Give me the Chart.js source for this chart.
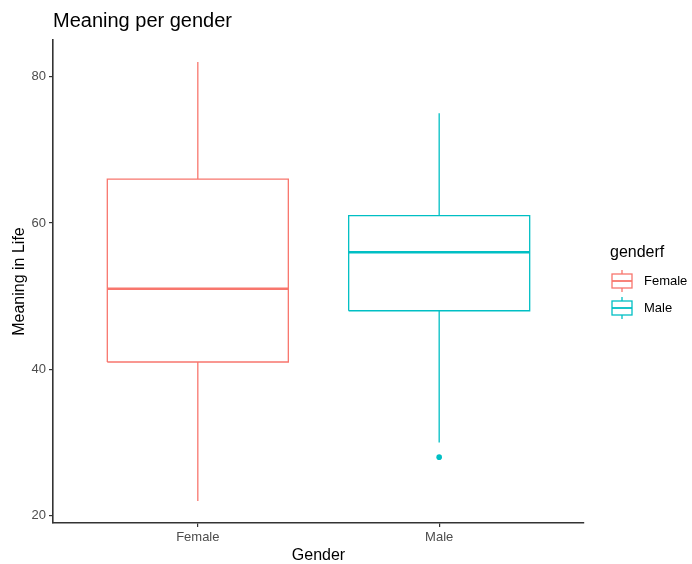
<!DOCTYPE html>
<html>
<head>
<meta charset="utf-8">
<title>Meaning per gender</title>
<script src="https://cdn.jsdelivr.net/npm/chart.js@4.4.1/dist/chart.umd.min.js"></script>
<style>
  html, body { margin: 0; padding: 0; background: #fff; }
  #wrap { width: 692px; height: 564px; }
</style>
</head>
<body>
<div id="wrap"><canvas id="chart"></canvas></div>
<script>
// boxplot summary per group (Meaning in Life)
const groups = ["Female", "Male"];
const whiskerLow = [22, 30];
const q1 = [41, 48];
const median = [51, 56];
const q3 = [66, 61];
const whiskerHigh = [82, 75];
const outliers = [[], [28]];
const colors = ["#F8766D", "#00BFC4"];
const yTicks = [20, 40, 60, 80];

const FONT = "'Liberation Sans', Arial, sans-serif";
const half = 0.375; // half box width in category units

const datasets = [];
groups.forEach((g, i) => {
  const x = i + 1;
  const line = { showLine: true, pointRadius: 0, borderColor: colors[i], fill: false, tension: 0 };
  datasets.push({ ...line, label: g + " box", borderWidth: 1.3, data: [
    { x: x - half, y: q1[i] }, { x: x + half, y: q1[i] },
    { x: x + half, y: q3[i] }, { x: x - half, y: q3[i] }, { x: x - half, y: q1[i] }
  ] });
  datasets.push({ ...line, label: g + " median", borderWidth: 2.4, data: [
    { x: x - half, y: median[i] }, { x: x + half, y: median[i] }
  ] });
  datasets.push({ ...line, label: g + " upper", borderWidth: 1.3, data: [
    { x: x, y: q3[i] }, { x: x, y: whiskerHigh[i] }
  ] });
  datasets.push({ ...line, label: g + " lower", borderWidth: 1.3, data: [
    { x: x, y: q1[i] }, { x: x, y: whiskerLow[i] }
  ] });
  datasets.push({ label: g + " outliers", showLine: false, pointRadius: 2.8, borderWidth: 0,
    pointBackgroundColor: colors[i], data: outliers[i].map(v => ({ x: x, y: v })) });
});

// title text at the panel's left edge
const titlePlugin = {
  id: "plotTitle",
  afterDraw(chart) {
    const ctx = chart.ctx;
    ctx.save();
    ctx.fillStyle = "#000";
    ctx.font = "20px " + FONT;
    ctx.textBaseline = "alphabetic";
    ctx.textAlign = "left";
    ctx.fillText("Meaning per gender", chart.chartArea.left, 27);
    ctx.restore();
  }
};

// legend with boxplot keys
const keyLegend = {
  id: "keyLegend",
  afterDraw(chart) {
    const ctx = chart.ctx;
    const left = chart.chartArea.right + 26;
    ctx.save();
    ctx.fillStyle = "#000";
    ctx.font = "16px " + FONT;
    ctx.textBaseline = "middle";
    ctx.fillText("genderf", left, 253);
    groups.forEach((g, i) => {
      const cy = 281 + i * 27;
      const cx = left + 12;
      ctx.strokeStyle = colors[i];
      ctx.lineWidth = 1.3;
      ctx.beginPath();
      ctx.moveTo(cx, cy - 11); ctx.lineTo(cx, cy - 7);
      ctx.moveTo(cx, cy + 7); ctx.lineTo(cx, cy + 11);
      ctx.stroke();
      ctx.strokeRect(cx - 10, cy - 7, 20, 14);
      ctx.lineWidth = 1.8;
      ctx.beginPath();
      ctx.moveTo(cx - 10, cy); ctx.lineTo(cx + 10, cy);
      ctx.stroke();
      ctx.fillStyle = "#000";
      ctx.font = "13px " + FONT;
      ctx.fillText(g, left + 34, cy);
    });
    ctx.restore();
  }
};

new Chart(document.getElementById("chart"), {
  type: "scatter",
  data: { datasets: datasets },
  options: {
    responsive: true,
    maintainAspectRatio: false,
    animation: false,
    layout: { padding: { top: 40, right: 108, left: 1, bottom: 0 } },
    plugins: {
      legend: { display: false },
      tooltip: { enabled: false },
      title: { display: false }
    },
    scales: {
      x: {
        type: "linear",
        min: 0.4,
        max: 2.6,
        afterFit: (s) => { s.height = 41; },
        afterBuildTicks: (s) => { s.ticks = groups.map((g, i) => ({ value: i + 1 })); },
        ticks: {
          color: "#4D4D4D",
          font: { family: FONT, size: 13 },
          padding: 3,
          callback: (v) => groups[v - 1]
        },
        grid: { drawOnChartArea: false, drawTicks: true, tickLength: 4, color: "#333", lineWidth: 1.2 },
        border: { display: true, color: "#333", width: 1.6 },
        title: {
          display: true, text: "Gender", color: "#000",
          font: { family: FONT, size: 16, lineHeight: 1 },
          padding: { top: 0, bottom: 0 }
        }
      },
      y: {
        min: 19,
        max: 85,
        afterFit: (s) => { s.width = 52; },
        afterBuildTicks: (s) => { s.ticks = yTicks.map(v => ({ value: v })); },
        ticks: {
          color: "#4D4D4D",
          font: { family: FONT, size: 13 },
          padding: 3
        },
        grid: { drawOnChartArea: false, drawTicks: true, tickLength: 4, color: "#333", lineWidth: 1.2 },
        border: { display: true, color: "#333", width: 1.6 },
        title: {
          display: true, text: "Meaning in Life", color: "#000",
          font: { family: FONT, size: 16, lineHeight: 1 },
          padding: { top: 11, bottom: 0 }
        }
      }
    }
  },
  plugins: [titlePlugin, keyLegend]
});
</script>
</body>
</html>
